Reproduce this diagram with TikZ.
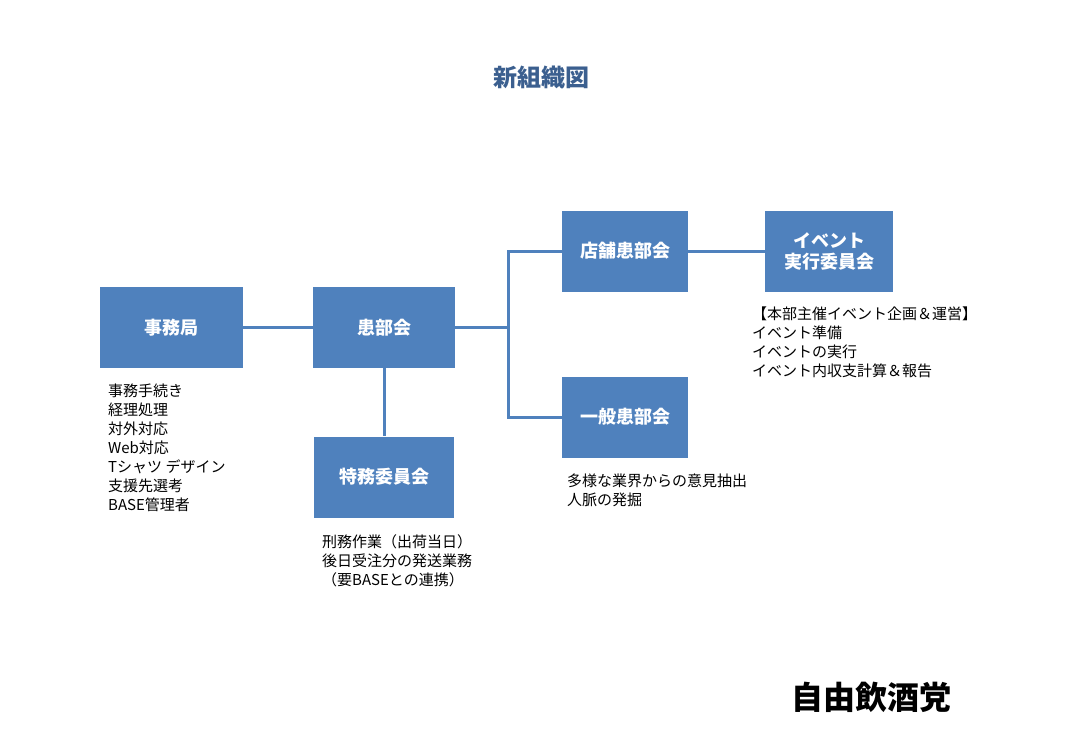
\documentclass[tikz,border=0pt]{standalone}
\usepackage{fontspec}
\setmainfont{Noto Sans CJK JP}
\definecolor{boxblue}{HTML}{4F81BD}
\definecolor{titleblue}{HTML}{3B5F8F}
\begin{document}
\begin{tikzpicture}[
		x=1pt, y=-1pt,
		box/.style={fill=boxblue, text=white, align=center, minimum height=81pt, font=\bfseries\fontsize{18}{21}\selectfont},
		link/.style={draw=boxblue, line width=3pt},
		note/.style={anchor=north west, inner sep=0pt, align=left, font=\fontsize{15}{19}\selectfont}
	]
		\useasboundingbox (0,0) rectangle (1082,753);
		\node[text=titleblue, font=\bfseries\fontsize{24}{28}\selectfont] (title) at (541,77) {新組織図};
		\node[box, minimum width=143pt] (jimu) at (171.5,327.5) {事務局};
		\node[box, minimum width=142pt] (kanbu) at (384,327.5) {患部会};
		\node[box, minimum width=140pt] (tokumu) at (384,477) {特務委員会};
		\node[box, minimum width=126pt] (tenpo) at (625,251) {店舗患部会};
		\node[box, minimum width=128pt] (event) at (829,251) {イベント\\実行委員会};
		\node[box, minimum width=126pt] (ippan) at (625,417) {一般患部会};
		\coordinate (br) at (508,327.5);
		\draw[link] (jimu) -- (kanbu);
		\draw[link] (kanbu) -- (tokumu);
		\draw[link] (kanbu) -- (br);
		\draw[link] (tenpo.west) -| (br) |- (ippan.west);
		\draw[link] (tenpo) -- (event);
		\node[note] (jimunote) at (108,384) {事務手続き\\経理処理\\対外対応\\Web対応\\Tシャツ デザイン\\支援先選考\\BASE管理者};
		\node[note] (tokumunote) at (322,534) {刑務作業（出荷当日）\\後日受注分の発送業務\\（要BASEとの連携）};
		\node[note] (eventnote) at (752,307) {【本部主催イベント企画＆運営】\\イベント準備\\イベントの実行\\イベント内収支計算＆報告};
		\node[note] (ippannote) at (567,474) {多様な業界からの意見抽出\\人脈の発掘};
		\node[font=\bfseries\fontsize{32}{35}\selectfont] (logo) at (871,697) {自由飲酒党};
	\end{tikzpicture}
\end{document}
